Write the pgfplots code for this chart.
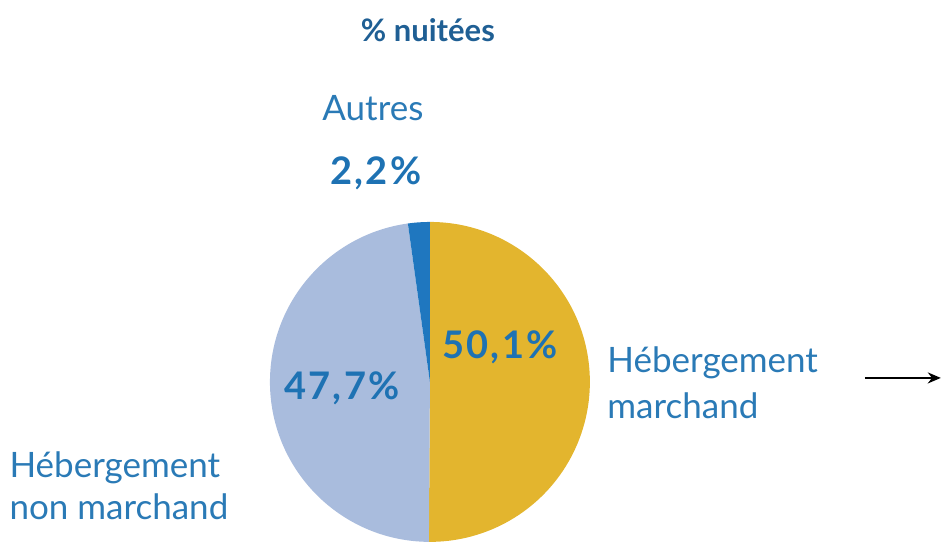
\documentclass[border=0pt]{standalone}
\usepackage{pgfplots}
\pgfplotsset{compat=1.18}
\usepackage{pgfplotstable}
\usetikzlibrary{arrows.meta}
\usepackage{fontspec}
\setmainfont{Lato}
\definecolor{cyellow}{HTML}{E3B52E}
\definecolor{clight}{HTML}{A9BCDD}
\definecolor{cdark}{HTML}{1F77BF}
\definecolor{ctext}{HTML}{2A7AB6}
\definecolor{ctitle}{HTML}{1F5F94}
\definecolor{cpct}{HTML}{1E72B3}
\pgfplotstableread{
label value
marchand 50.1
nonmarchand 47.7
autres 2.2
}\piedata
\begin{document}
\begin{tikzpicture}
\pgfplotstablegetelem{0}{value}\of\piedata \pgfmathsetmacro{\va}{\pgfplotsretval}
\pgfplotstablegetelem{1}{value}\of\piedata \pgfmathsetmacro{\vb}{\pgfplotsretval}
\pgfplotstablegetelem{2}{value}\of\piedata \pgfmathsetmacro{\vc}{\pgfplotsretval}
\pgfmathsetmacro{\aA}{90-3.6*\va}
\pgfmathsetmacro{\aB}{\aA-3.6*\vb}
\pgfmathsetmacro{\aC}{\aB-3.6*\vc}
\begin{axis}[
  width=942bp, height=542bp, scale only axis,
  xmin=0, xmax=942, ymin=0, ymax=542,
  axis lines=none, clip=false,
]
\addplot[draw=none] coordinates {(0,0) (942,542)};
% pie centre (430,382 px) -> axis (430,160), radius 160
\fill[cyellow] (axis cs:430,160) -- ++(90:160bp) arc[start angle=90, end angle=\aA, radius=160bp] -- cycle;
\fill[clight] (axis cs:430,160) -- ++(\aA:160bp) arc[start angle=\aA, end angle=\aB, radius=160bp] -- cycle;
\fill[cdark] (axis cs:430,160) -- ++(\aB:160bp) arc[start angle=\aB, end angle=\aC, radius=160bp] -- cycle;
% texts
\node[text=ctitle, font=\fontsize{31bp}{36bp}\selectfont\bfseries] at (axis cs:428,512) {\% nuitées};
\node[text=ctext, font=\fontsize{35bp}{40bp}\selectfont] at (axis cs:373,434) {Autres};
\node[text=cpct, font=\fontsize{38bp}{40bp}\selectfont\bfseries\addfontfeature{LetterSpace=6}] at (axis cs:376,369) {2,2\%};
\node[text=cpct, font=\fontsize{38bp}{40bp}\selectfont\bfseries\addfontfeature{LetterSpace=6}] at (axis cs:500,195) {50,1\%};
\node[text=cpct, font=\fontsize{38bp}{40bp}\selectfont\bfseries\addfontfeature{LetterSpace=6}] at (axis cs:342,154) {47,7\%};
\node[text=ctext, font=\fontsize{35bp}{46bp}\selectfont, align=left, anchor=west] at (axis cs:604,159) {Hébergement\\marchand};
\node[text=ctext, font=\fontsize{35bp}{42bp}\selectfont, align=left, anchor=west] at (axis cs:6,56) {Hébergement\\non marchand};
\draw[line width=2.4bp, -{Stealth[length=13bp,width=11bp]}] (axis cs:865,164) -- (axis cs:941,164);
\end{axis}
\end{tikzpicture}
\end{document}
